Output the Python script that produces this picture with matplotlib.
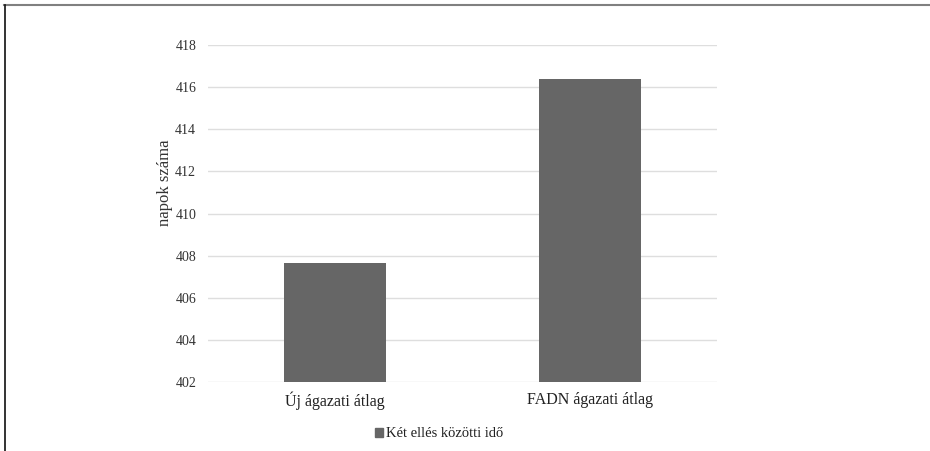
import matplotlib
matplotlib.use("Agg")
import matplotlib.pyplot as plt
from matplotlib.lines import Line2D

# data
categories = ["Új ágazati átlag", "FADN ágazati átlag"]
values = [407.65, 416.4]
series_name = "Két ellés közötti idő"
y_ticks = [402, 404, 406, 408, 410, 412, 414, 416, 418]

plt.rcParams['font.family'] = ['Liberation Serif', 'DejaVu Serif']

fig = plt.figure(figsize=(9.3, 4.51), dpi=100)
ax = fig.add_axes([0.2237, 0.153, 0.5473, 0.7472])

ax.bar(range(len(categories)), values, width=0.4, color="#666666", zorder=3)
ax.set_xlim(-0.5, len(categories) - 0.5)
ax.set_ylim(402, 418)
ax.set_yticks(y_ticks)
ax.set_xticks(range(len(categories)))
ax.set_xticklabels(categories, fontsize=11.5, color="#222222")
ax.tick_params(axis='y', labelsize=10, colors="#333333", length=0, pad=8.5)
ax.tick_params(axis='x', length=0, pad=7)
ax.grid(axis='y', color="#dedede", linewidth=1, zorder=0)
for s in ax.spines.values():
    s.set_visible(False)
ax.set_ylabel("napok száma", fontsize=12, color="#333333")
ax.yaxis.set_label_coords(-0.068, 0.59)

# legend below the plot
handle = plt.Rectangle((0, 0), 1, 1, color="#666666")
fig.legend([handle], [series_name], loc="center", bbox_to_anchor=(0.472, 0.038),
           frameon=False, fontsize=10.5, handlelength=0.6, handleheight=0.6,
           handletextpad=0.2, labelcolor="#222222")

# frame lines at top and left of the picture
fig.add_artist(Line2D([0.004, 1.0], [0.988, 0.988], color="#808080", linewidth=1.5))
fig.add_artist(Line2D([0.005, 0.005], [0.0, 0.988], color="#111111", linewidth=1.2))

fig.savefig("out.png", dpi=100)
